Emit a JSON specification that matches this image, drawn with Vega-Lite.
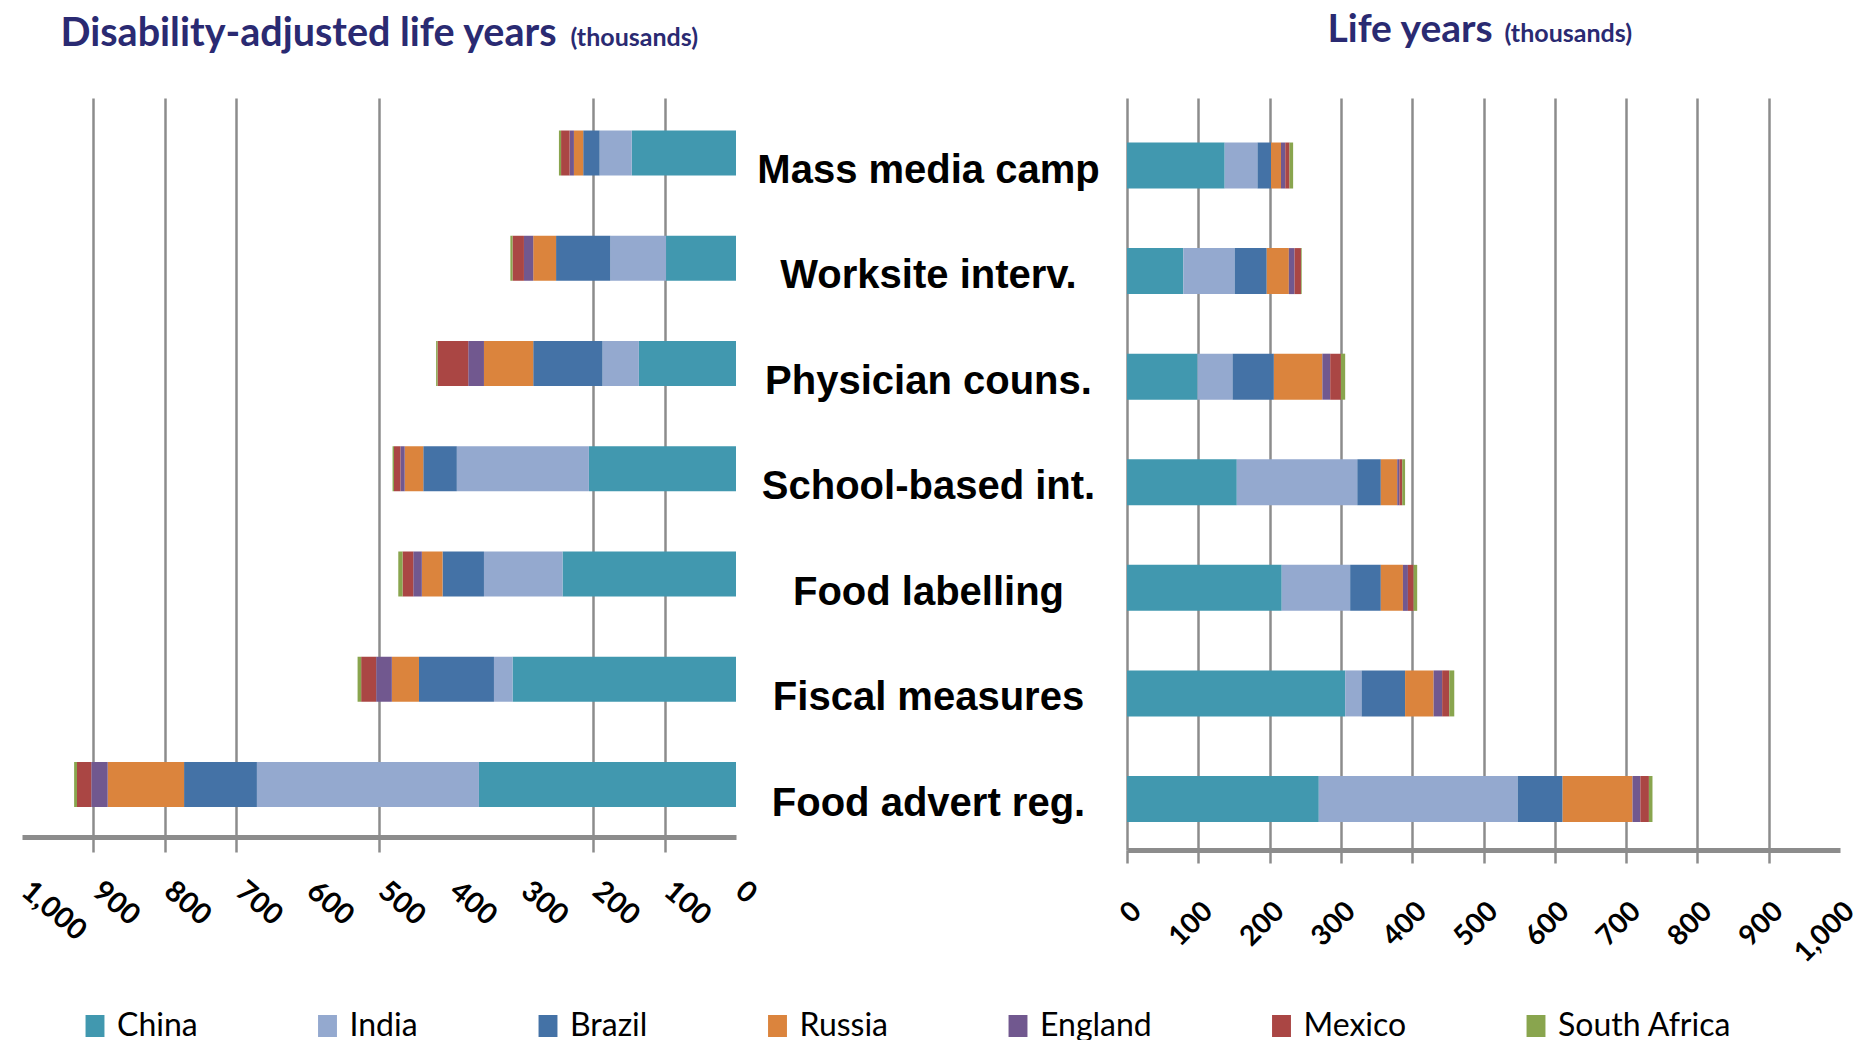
{
  "$schema": "https://vega.github.io/schema/vega-lite/v6.json",
  "background": "white",
  "padding": {"left": 15, "top": 10, "right": 5, "bottom": 0},
  "spacing": 391,
  "bounds": "flush",
  "config": {"view": {"stroke": null}, "font": "Lato"},
  "data": {"values": [
    {"intervention": "Mass media camp", "country": "China", "rank": 1, "daly": 146, "ly": 137},
    {"intervention": "Mass media camp", "country": "India", "rank": 2, "daly": 45, "ly": 46},
    {"intervention": "Mass media camp", "country": "Brazil", "rank": 3, "daly": 23, "ly": 19},
    {"intervention": "Mass media camp", "country": "Russia", "rank": 4, "daly": 13, "ly": 14},
    {"intervention": "Mass media camp", "country": "England", "rank": 5, "daly": 6, "ly": 6},
    {"intervention": "Mass media camp", "country": "Mexico", "rank": 6, "daly": 12, "ly": 6},
    {"intervention": "Mass media camp", "country": "South Africa", "rank": 7, "daly": 3, "ly": 5},
    {"intervention": "Worksite interv.", "country": "China", "rank": 1, "daly": 98, "ly": 79},
    {"intervention": "Worksite interv.", "country": "India", "rank": 2, "daly": 78, "ly": 72},
    {"intervention": "Worksite interv.", "country": "Brazil", "rank": 3, "daly": 76, "ly": 45},
    {"intervention": "Worksite interv.", "country": "Russia", "rank": 4, "daly": 32, "ly": 31},
    {"intervention": "Worksite interv.", "country": "England", "rank": 5, "daly": 13, "ly": 8},
    {"intervention": "Worksite interv.", "country": "Mexico", "rank": 6, "daly": 16, "ly": 9},
    {"intervention": "Worksite interv.", "country": "South Africa", "rank": 7, "daly": 3, "ly": 1},
    {"intervention": "Physician couns.", "country": "China", "rank": 1, "daly": 136, "ly": 99},
    {"intervention": "Physician couns.", "country": "India", "rank": 2, "daly": 51, "ly": 49},
    {"intervention": "Physician couns.", "country": "Brazil", "rank": 3, "daly": 97, "ly": 58},
    {"intervention": "Physician couns.", "country": "Russia", "rank": 4, "daly": 69, "ly": 68},
    {"intervention": "Physician couns.", "country": "England", "rank": 5, "daly": 22, "ly": 11},
    {"intervention": "Physician couns.", "country": "Mexico", "rank": 6, "daly": 43, "ly": 15},
    {"intervention": "Physician couns.", "country": "South Africa", "rank": 7, "daly": 2, "ly": 6},
    {"intervention": "School-based int.", "country": "China", "rank": 1, "daly": 206, "ly": 154},
    {"intervention": "School-based int.", "country": "India", "rank": 2, "daly": 185, "ly": 169},
    {"intervention": "School-based int.", "country": "Brazil", "rank": 3, "daly": 47, "ly": 33},
    {"intervention": "School-based int.", "country": "Russia", "rank": 4, "daly": 26, "ly": 23},
    {"intervention": "School-based int.", "country": "England", "rank": 5, "daly": 6, "ly": 3},
    {"intervention": "School-based int.", "country": "Mexico", "rank": 6, "daly": 9, "ly": 4},
    {"intervention": "School-based int.", "country": "South Africa", "rank": 7, "daly": 2, "ly": 4},
    {"intervention": "Food labelling", "country": "China", "rank": 1, "daly": 243, "ly": 217},
    {"intervention": "Food labelling", "country": "India", "rank": 2, "daly": 110, "ly": 96},
    {"intervention": "Food labelling", "country": "Brazil", "rank": 3, "daly": 58, "ly": 43},
    {"intervention": "Food labelling", "country": "Russia", "rank": 4, "daly": 29, "ly": 31},
    {"intervention": "Food labelling", "country": "England", "rank": 5, "daly": 12, "ly": 7},
    {"intervention": "Food labelling", "country": "Mexico", "rank": 6, "daly": 15, "ly": 8},
    {"intervention": "Food labelling", "country": "South Africa", "rank": 7, "daly": 6, "ly": 5},
    {"intervention": "Fiscal measures", "country": "China", "rank": 1, "daly": 313, "ly": 306},
    {"intervention": "Fiscal measures", "country": "India", "rank": 2, "daly": 26, "ly": 23},
    {"intervention": "Fiscal measures", "country": "Brazil", "rank": 3, "daly": 105, "ly": 61},
    {"intervention": "Fiscal measures", "country": "Russia", "rank": 4, "daly": 38, "ly": 40},
    {"intervention": "Fiscal measures", "country": "England", "rank": 5, "daly": 22, "ly": 12},
    {"intervention": "Fiscal measures", "country": "Mexico", "rank": 6, "daly": 21, "ly": 10},
    {"intervention": "Fiscal measures", "country": "South Africa", "rank": 7, "daly": 5, "ly": 7},
    {"intervention": "Food advert reg.", "country": "China", "rank": 1, "daly": 360, "ly": 269},
    {"intervention": "Food advert reg.", "country": "India", "rank": 2, "daly": 311, "ly": 279},
    {"intervention": "Food advert reg.", "country": "Brazil", "rank": 3, "daly": 102, "ly": 63},
    {"intervention": "Food advert reg.", "country": "Russia", "rank": 4, "daly": 107, "ly": 98},
    {"intervention": "Food advert reg.", "country": "England", "rank": 5, "daly": 23, "ly": 11},
    {"intervention": "Food advert reg.", "country": "Mexico", "rank": 6, "daly": 20, "ly": 12},
    {"intervention": "Food advert reg.", "country": "South Africa", "rank": 7, "daly": 4, "ly": 5}
  ]},
  "hconcat": [
    {
      "width": 714,
      "height": 739,
      "mark": {"type": "bar"},
      "encoding": {
        "y": {
          "field": "intervention", "type": "nominal",
          "sort": ["Mass media camp", "Worksite interv.", "Physician couns.", "School-based int.", "Food labelling", "Fiscal measures", "Food advert reg."],
          "scale": {"paddingInner": 0.5724, "paddingOuter": 0.297, "align": 0.52},
          "axis": {"labels": false, "ticks": false, "domain": false, "grid": false, "title": "(thousands)", "titleAngle": 0, "titleX": 548, "titleY": -53, "titleAlign": "left", "titleBaseline": "alphabetic", "titleFontSize": 25, "titleFont": "Lato", "titleFontWeight": "bold", "titleColor": "#2a2a72"}
        },
        "x": {
          "field": "daly", "type": "quantitative", "stack": "zero",
          "scale": {"domain": [0, 1000], "reverse": true, "nice": false},
          "axis": {
            "values": [0, 100, 200, 300, 400, 500, 600, 700, 800, 900, 1000], "format": ",.0f",
            "title": "Disability-adjusted life years", "titleX": 38, "titleY": -792, "titleAlign": "left", "titleBaseline": "alphabetic", "titleAngle": 0, "titleFontSize": 39.5, "titleFont": "Lato", "titleFontWeight": "bold", "titleColor": "#2a2a72",
            "labelAngle": 40, "labelAlign": "left", "labelBaseline": "top", "labelPadding": 24, "labelOffset": 12,
            "labelFont": "Lato", "labelFontWeight": "bold", "labelFontSize": 29, "labelColor": "black",
            "labelOverlap": false, "labelFlush": false, "labelBound": false,
            "tickSize": 15, "tickWidth": 2.5, "tickColor": "#8c8c8c",
            "tickOpacity": {"condition": {"test": "indexof([0, 300, 400, 600, 1000], datum.value) >= 0", "value": 0}, "value": 1},
            "grid": true, "gridColor": "#8c8c8c", "gridWidth": 2.5,
            "gridOpacity": {"condition": {"test": "indexof([0, 300, 400, 600, 1000], datum.value) >= 0", "value": 0}, "value": 1},
            "domainColor": "#8c8c8c", "domainWidth": 5
          }
        },
        "order": {"field": "rank", "type": "quantitative"},
        "color": {
          "field": "country", "type": "nominal",
          "sort": ["China", "India", "Brazil", "Russia", "England", "Mexico", "South Africa"],
          "scale": {"domain": ["China", "India", "Brazil", "Russia", "England", "Mexico", "South Africa"], "range": ["#4198af", "#94a9cf", "#4472a6", "#db843d", "#71588f", "#aa4644", "#89a54e"]},
          "legend": {"orient": "none", "legendX": 57, "legendY": 912, "direction": "horizontal", "title": null, "symbolType": "M-0.86,-1H0.86V1H-0.86Z", "symbolSize": 484, "symbolStrokeWidth": 0, "symbolOpacity": 1, "labelFont": "Lato", "labelFontSize": 32, "labelColor": "black", "labelOffset": 6, "columnPadding": 113.5, "labelLimit": 400}
        }
      }
    },
    {
      "width": 713,
      "height": 752,
      "mark": {"type": "bar"},
      "encoding": {
        "y": {
          "field": "intervention", "type": "nominal",
          "sort": ["Mass media camp", "Worksite interv.", "Physician couns.", "School-based int.", "Food labelling", "Fiscal measures", "Food advert reg."],
          "scale": {"paddingInner": 0.5643, "paddingOuter": 0.3433, "align": 0.614},
          "axis": {"ticks": false, "tickSize": 0, "domain": false, "grid": false, "labelAlign": "center", "labelBaseline": "middle", "labelPadding": 199, "labelOffset": 5, "labelFont": "Liberation Sans", "labelFontWeight": "bold", "labelFontSize": 40, "labelColor": "black", "labelLimit": 600,
            "title": "(thousands)", "titleAngle": 0, "titleX": 377, "titleY": -57, "titleAlign": "left", "titleBaseline": "alphabetic", "titleFontSize": 25, "titleFont": "Lato", "titleFontWeight": "bold", "titleColor": "#2a2a72"}
        },
        "x": {
          "field": "ly", "type": "quantitative", "stack": "zero",
          "scale": {"domain": [0, 1000], "nice": false},
          "axis": {
            "values": [0, 100, 200, 300, 400, 500, 600, 700, 800, 900, 1000], "format": ",.0f",
            "title": "Life years", "titleX": 200, "titleY": -809, "titleAlign": "left", "titleBaseline": "alphabetic", "titleAngle": 0, "titleFontSize": 39, "titleFont": "Lato", "titleFontWeight": "bold", "titleColor": "#2a2a72",
            "labelAngle": -45, "labelAlign": "right", "labelBaseline": "top", "labelPadding": 34,
            "labelFont": "Lato", "labelFontWeight": "bold", "labelFontSize": 28, "labelColor": "black",
            "labelOverlap": false, "labelFlush": false, "labelBound": false,
            "tickSize": 13, "tickWidth": 2.5, "tickColor": "#8c8c8c",
            "tickOpacity": {"condition": {"test": "datum.value === 1000", "value": 0}, "value": 1},
            "grid": true, "gridColor": "#8c8c8c", "gridWidth": 2.5,
            "gridOpacity": {"condition": {"test": "datum.value === 1000", "value": 0}, "value": 1},
            "domainColor": "#8c8c8c", "domainWidth": 5
          }
        },
        "order": {"field": "rank", "type": "quantitative"},
        "color": {
          "field": "country", "type": "nominal",
          "sort": ["China", "India", "Brazil", "Russia", "England", "Mexico", "South Africa"],
          "scale": {"domain": ["China", "India", "Brazil", "Russia", "England", "Mexico", "South Africa"], "range": ["#4198af", "#94a9cf", "#4472a6", "#db843d", "#71588f", "#aa4644", "#89a54e"]},
          "legend": {"orient": "none", "legendX": 57, "legendY": 912, "direction": "horizontal", "title": null, "symbolType": "M-0.86,-1H0.86V1H-0.86Z", "symbolSize": 484, "symbolStrokeWidth": 0, "symbolOpacity": 1, "labelFont": "Lato", "labelFontSize": 32, "labelColor": "black", "labelOffset": 6, "columnPadding": 113.5, "labelLimit": 400}
        }
      }
    }
  ]
}
